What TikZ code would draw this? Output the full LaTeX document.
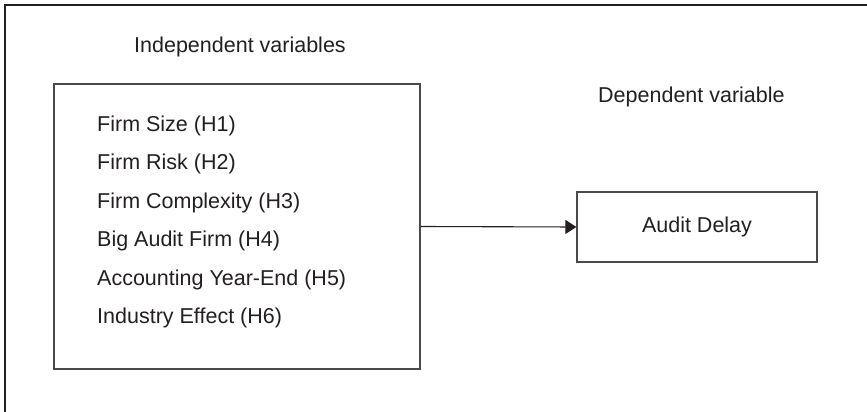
\documentclass[tikz,border=0pt]{standalone}
\usepackage{fontspec}
\setmainfont{Liberation Sans}
\usetikzlibrary{arrows.meta}
\definecolor{ink}{HTML}{231F20}
\definecolor{edge}{HTML}{4A4A4A}
\begin{document}
\begin{tikzpicture}[x=1pt,y=-1pt,
  lbl/.style={anchor=west,inner sep=0pt,text=ink,font=\fontsize{21.5}{26}\selectfont},
  varbox/.style={draw=edge,line width=1.3pt,inner sep=0pt},
  link/.style={draw=ink,line width=1.1pt,-{Triangle[length=11pt,width=14pt]}}]
  \useasboundingbox (0,0) rectangle (867,412);
  % open outer frame: top and left edges only
  \draw[ink,line width=1.4pt] (867,5) -- (5,5) -- (5,412);
  % variable boxes
  \node[varbox,minimum width=366pt,minimum height=285pt] (ind) at (237,226.5) {};
  \node[varbox,minimum width=240pt,minimum height=70pt] (dep) at (697,227) {};
  % headings
  \node[lbl] (hind) at (134,47) {Independent variables};
  \node[lbl] (hdep) at (598,97) {Dependent variable};
  % independent variables
  \node[lbl] (h1) at (97,125.5) {Firm Size (H1)};
  \node[lbl] (h2) at (97,164) {Firm Risk (H2)};
  \node[lbl] (h3) at (97,202.5) {Firm Complexity (H3)};
  \node[lbl] (h4) at (97,241) {Big Audit Firm (H4)};
  \node[lbl] (h5) at (97,279.5) {Accounting Year-End (H5)};
  \node[lbl] (h6) at (97,318) {Industry Effect (H6)};
  % dependent variable
  \node[lbl,anchor=center] (ad) at (dep.center) {Audit Delay};
  % relation
  \draw[link] (ind.east) -- (dep.west);
\end{tikzpicture}
\end{document}
